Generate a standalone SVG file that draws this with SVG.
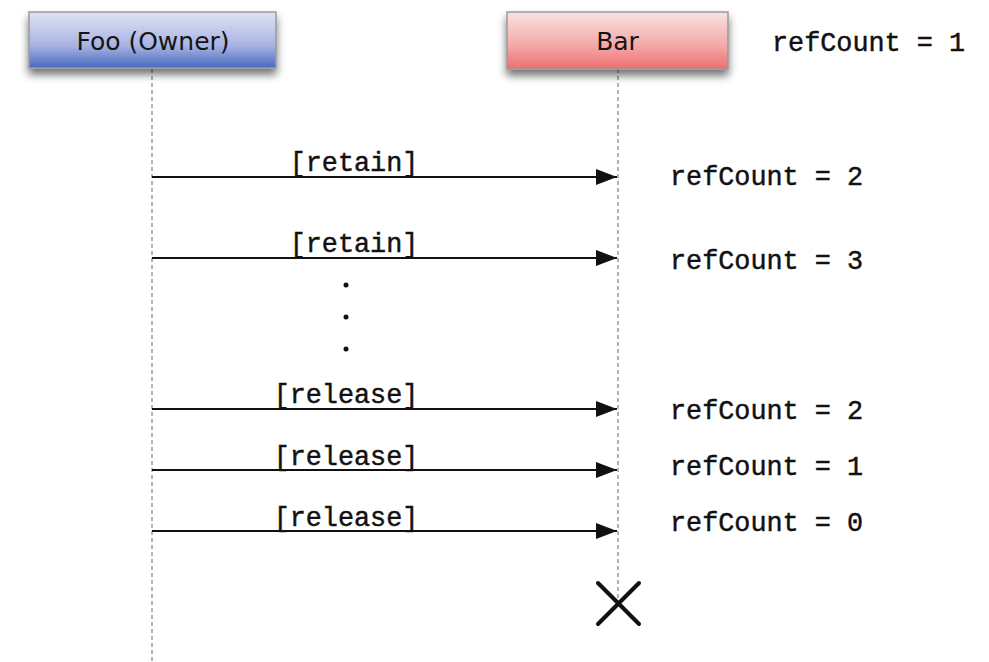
<svg xmlns="http://www.w3.org/2000/svg" width="989" height="662" viewBox="0 0 989 662">
  <style>
    .lifeline { stroke: #808080; stroke-width: 1.2; stroke-dasharray: 4 3; fill: none; }
    .msg { stroke: #111; stroke-width: 2; fill: none; }
    .mono { font-family: "Liberation Mono", "Courier New", monospace; font-size: 26.8px; fill: #111; stroke: #111; stroke-width: 0.45; }
    .label { font-family: "DejaVu Sans", "Liberation Sans", sans-serif; font-size: 25px; fill: #151515; text-anchor: middle; }
    .box { stroke: #9a9a9a; stroke-width: 1.5; }
  </style>
  <defs>
    <linearGradient id="blueFill" x1="0" y1="0" x2="0" y2="1">
      <stop offset="0" stop-color="#e0e3f4"/>
      <stop offset="0.6" stop-color="#a8b3e3"/>
      <stop offset="1" stop-color="#4669bf"/>
    </linearGradient>
    <linearGradient id="redFill" x1="0" y1="0" x2="0" y2="1">
      <stop offset="0" stop-color="#f9e2e2"/>
      <stop offset="0.6" stop-color="#f4a7a7"/>
      <stop offset="1" stop-color="#ee6e6e"/>
    </linearGradient>
    <filter id="shadow" x="-10%" y="-20%" width="120%" height="160%">
      <feGaussianBlur in="SourceAlpha" stdDeviation="4"/>
      <feOffset dx="0" dy="6" result="b"/>
      <feComponentTransfer><feFuncA type="linear" slope="0.55"/></feComponentTransfer>
      <feMerge><feMergeNode/><feMergeNode in="SourceGraphic"/></feMerge>
    </filter>
    <marker id="arrow" viewBox="0 0 21 16" refX="21" refY="8" markerWidth="21" markerHeight="16" markerUnits="userSpaceOnUse" orient="auto">
      <path d="M0,0 L21,8 L0,16 Z" fill="#111"/>
    </marker>
  </defs>

  <rect width="989" height="662" fill="#ffffff"/>

  <!-- lifelines -->
  <g id="lifelines">
    <line class="lifeline" x1="152" y1="69" x2="152" y2="662"/>
    <line class="lifeline" x1="618" y1="69" x2="618" y2="602"/>
  </g>

  <!-- participants -->
  <g id="foo">
    <rect class="box" x="29" y="12" width="247" height="56" fill="url(#blueFill)" filter="url(#shadow)"/>
    <text class="label" x="153" y="50">Foo (Owner)</text>
  </g>
  <g id="bar">
    <rect class="box" x="507" y="12" width="221" height="57" fill="url(#redFill)" filter="url(#shadow)"/>
    <text class="label" x="617.5" y="50">Bar</text>
  </g>

  <!-- messages -->
  <g id="connectors">
    <line class="msg" x1="152" y1="177" x2="617" y2="177" marker-end="url(#arrow)"/>
    <line class="msg" x1="152" y1="258" x2="617" y2="258" marker-end="url(#arrow)"/>
    <line class="msg" x1="152" y1="409" x2="617" y2="409" marker-end="url(#arrow)"/>
    <line class="msg" x1="152" y1="470" x2="617" y2="470" marker-end="url(#arrow)"/>
    <line class="msg" x1="152" y1="531" x2="617" y2="531" marker-end="url(#arrow)"/>
  </g>

  <!-- message labels -->
  <g id="message-labels">
    <text class="mono" x="354" y="171" text-anchor="middle">[retain]</text>
    <text class="mono" x="354" y="252" text-anchor="middle">[retain]</text>
    <text class="mono" x="346" y="403" text-anchor="middle">[release]</text>
    <text class="mono" x="346" y="465" text-anchor="middle">[release]</text>
    <text class="mono" x="346" y="526" text-anchor="middle">[release]</text>
  </g>

  <!-- ellipsis -->
  <g id="ellipsis" fill="#111">
    <circle cx="346" cy="285" r="2.5"/>
    <circle cx="346" cy="317" r="2.5"/>
    <circle cx="346" cy="349" r="2.5"/>
  </g>

  <!-- reference counts -->
  <g id="counts">
    <text class="mono" x="772" y="51">refCount = 1</text>
    <text class="mono" x="670" y="185">refCount = 2</text>
    <text class="mono" x="670" y="269">refCount = 3</text>
    <text class="mono" x="670" y="419">refCount = 2</text>
    <text class="mono" x="670" y="475">refCount = 1</text>
    <text class="mono" x="670" y="531">refCount = 0</text>
  </g>

  <!-- destruction mark -->
  <g id="destroy" stroke="#111" stroke-width="4" stroke-linecap="round">
    <line x1="598" y1="583" x2="639" y2="624"/>
    <line x1="639" y1="583" x2="598" y2="624"/>
  </g>
</svg>
